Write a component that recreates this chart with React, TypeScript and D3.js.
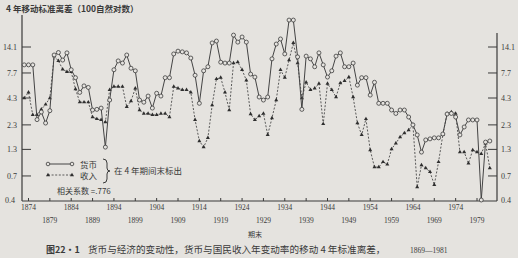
import React from 'react';
import * as d3 from 'd3';

const years = [
  1873, 1874, 1875, 1876, 1877, 1878, 1879, 1880, 1881, 1882,
  1883, 1884, 1885, 1886, 1887, 1888, 1889, 1890, 1891, 1892,
  1893, 1894, 1895, 1896, 1897, 1898, 1899, 1900, 1901, 1902,
  1903, 1904, 1905, 1906, 1907, 1908, 1909, 1910, 1911, 1912,
  1913, 1914, 1915, 1916, 1917, 1918, 1919, 1920, 1921, 1922,
  1923, 1924, 1925, 1926, 1927, 1928, 1929, 1930, 1931, 1932,
  1933, 1934, 1935, 1936, 1937, 1938, 1939, 1940, 1941, 1942,
  1943, 1944, 1945, 1946, 1947, 1948, 1949, 1950, 1951, 1952,
  1953, 1954, 1955, 1956, 1957, 1958, 1959, 1960, 1961, 1962,
  1963, 1964, 1965, 1966, 1967, 1968, 1969, 1970, 1971, 1972,
  1973, 1974, 1975, 1976, 1977, 1978, 1979, 1980, 1981, 1982,
];

// 货币 (money) – 4-year moving standard deviation
const money = [
  9.3, 9.3, 9.3, 2.6, 3.1, 2.4, 3.2, 11.7, 12.4, 10.4,
  12.3, 8.3, 6.9, 4.9, 5.7, 5.5, 3.25, 3.3, 3.4, 1.37,
  4.1, 8.3, 10.2, 9.7, 11.7, 8.6, 8.1, 4.1, 3.9, 4.5,
  3.4, 4.8, 4.5, 6.9, 6.9, 12.0, 12.8, 12.6, 12.3, 10.9,
  7.3, 3.8, 8.1, 8.9, 15.5, 16.2, 9.9, 9.7, 9.7, 18.6,
  15.8, 17.8, 15.8, 7.5, 7.0, 4.4, 4.1, 4.4, 10.7, 15.1,
  17.0, 12.0, 26.4, 26.4, 11.2, 3.3, 11.4, 10.7, 8.9, 12.3,
  9.3, 7.0, 8.1, 11.4, 12.3, 8.9, 8.9, 9.7, 5.8, 6.9,
  6.9, 4.6, 6.2, 3.8, 3.8, 3.8, 3.25, 3.0, 3.25, 3.25,
  2.76, 2.3, 1.82, 1.22, 1.62, 1.66, 1.7, 1.7, 1.86, 2.96,
  3.0, 2.76, 1.82, 2.19, 2.58, 2.58, 2.58, 0.4, 1.54, 1.58,
];

// 收入 (income)
const income = [
  4.3, 4.9, 2.9, 2.9, 3.3, 3.7, 4.3, 11.4, 10.2, 8.4,
  7.9, 7.9, 5.3, 3.9, 3.9, 3.9, 2.76, 2.64, 2.58, 2.46,
  5.2, 5.6, 5.6, 5.6, 3.5, 4.0, 5.4, 3.25, 3.0, 3.0,
  2.9, 2.9, 3.0, 3.0, 2.76, 5.6, 5.4, 5.2, 5.2, 4.9,
  2.58, 1.58, 1.37, 1.7, 3.65, 6.7, 6.9, 4.9, 3.25, 9.7,
  9.9, 8.3, 6.5, 2.96, 2.58, 2.83, 3.0, 1.82, 2.7, 4.1,
  8.3, 6.9, 10.4, 15.5, 9.7, 4.3, 6.2, 5.2, 5.4, 6.0,
  2.35, 6.0, 5.2, 4.4, 6.1, 6.4, 7.0, 4.4, 2.4, 1.82,
  2.64, 1.28, 0.86, 0.86, 0.97, 0.92, 1.31, 1.5, 1.73, 1.9,
  2.04, 2.3, 0.54, 0.9, 0.84, 0.77, 0.57, 0.97, 1.82, 3.0,
  3.1, 3.0, 1.22, 1.22, 0.94, 1.28, 1.22, 1.17, 1.5, 0.84,
];

const yTicks = [0.4, 0.7, 1.3, 2.3, 4.3, 7.7, 14.1];
const xLabelsUpper = [1874, 1884, 1894, 1904, 1914, 1924, 1934, 1944, 1954, 1964, 1974];
const xLabelsLower = [1879, 1889, 1899, 1909, 1919, 1929, 1939, 1949, 1959, 1969, 1979];

const title = '4 年移动标准离差（100自然对数）';
const xTitle = '期末';
const captionHead = '图22·1';
const captionText = '货币与经济的变动性，货币与国民收入年变动率的移动 4 年标准离差，';
const captionYears = '1869—1981';
const legendMoney = '货币';
const legendIncome = '收入';
const legendNote = '在 4 年期间末标出';
const corrText = '相关系数 =.776';

const BG = '#e5e3df';
const INK = '#3a3a3a';
const SERIF = '"Liberation Serif", "DejaVu Serif", serif';
const CJK = '"Noto Sans CJK SC", "Noto Sans", sans-serif';

export default function App() {
  const W = 518;
  const H = 258;
  const left = 22;
  const right = 497;
  const bottom = 201;

  const x = d3.scaleLinear().domain([1874, 1979]).range([28.5, 477]);
  const y = d3.scaleLog().domain([0.4, 14.1]).range([200, 47]);

  const line = d3
    .line<number>()
    .x((_, i) => x(years[i]))
    .y((v) => y(v));

  const tri = d3.symbol().type(d3.symbolTriangle).size(7)() as string;

  const tickYears = d3.range(1874, 1980, 5);

  return (
    <svg
      width={W}
      height={H}
      style={{ position: 'absolute', left: 0, top: 0, display: 'block' }}
    >
      <rect x={0} y={0} width={W} height={H} fill={BG} />

      {/* title */}
      <text x={6} y={12} fontFamily={CJK} fontSize={8.5} fontWeight={700} fill={INK}>
        {title}
      </text>

      {/* axes */}
      <line x1={left} y1={15} x2={left} y2={bottom} stroke={INK} strokeWidth={1.2} />
      <line x1={right} y1={33} x2={right} y2={bottom} stroke={INK} strokeWidth={1.2} />
      <line x1={left} y1={bottom} x2={right} y2={bottom} stroke={INK} strokeWidth={1.2} />

      {yTicks.map((t) => (
        <g key={'yt' + t}>
          {t !== 0.4 && (
            <>
              <line x1={left} x2={left + 9} y1={y(t)} y2={y(t)} stroke={INK} strokeWidth={1} />
              <line x1={right - 9} x2={right} y1={y(t)} y2={y(t)} stroke={INK} strokeWidth={1} />
            </>
          )}
          <text
            x={t === 0.4 ? 15 : 17}
            y={y(t) + 3}
            textAnchor="end"
            fontFamily={SERIF}
            fontSize={8}
            fill={INK}
          >
            {t}
          </text>
          <text x={right + 4} y={y(t) + 3} fontFamily={SERIF} fontSize={8} fill={INK}>
            {t}
          </text>
        </g>
      ))}

      {tickYears.map((yr) => (
        <line key={'xt' + yr} x1={x(yr)} x2={x(yr)} y1={bottom} y2={bottom - 3} stroke={INK} strokeWidth={1} />
      ))}
      {xLabelsUpper.map((yr) => (
        <text key={'xu' + yr} x={x(yr)} y={210} textAnchor="middle" fontFamily={SERIF} fontSize={7.5} fill={INK}>
          {yr}
        </text>
      ))}
      {xLabelsLower.map((yr) => (
        <text key={'xl' + yr} x={x(yr)} y={223} textAnchor="middle" fontFamily={SERIF} fontSize={7.5} fill={INK}>
          {yr}
        </text>
      ))}

      <text x={248} y={237} fontFamily={CJK} fontSize={7} fill={INK}>
        {xTitle}
      </text>

      {/* caption */}
      <text x={46} y={253} fontFamily={CJK} fontSize={9} fontWeight={700} fill={INK}>
        {captionHead}
      </text>
      <text x={88} y={253} fontFamily={CJK} fontSize={9.6} fill={INK}>
        {captionText}
      </text>
      <text x={410} y={253} fontFamily={SERIF} fontSize={7.5} fill={INK}>
        {captionYears}
      </text>

      {/* income series */}
      <path d={line(income) || ''} fill="none" stroke="#4a4a4a" strokeWidth={0.9} strokeDasharray="2,1.6" />
      {income.map((v, i) => (
        <path key={'ip' + i} d={tri} transform={`translate(${x(years[i])},${y(v)})`} fill="#2e2e2e" />
      ))}

      {/* money series */}
      <path d={line(money) || ''} fill="none" stroke="#444" strokeWidth={1} />
      {money.map((v, i) => (
        <circle key={'mp' + i} cx={x(years[i])} cy={y(v)} r={2} fill={BG} stroke="#3c3c3c" strokeWidth={0.8} />
      ))}

      {/* legend */}
      <line x1={48} x2={72} y1={164} y2={164} stroke="#444" strokeWidth={1} />
      <circle cx={48} cy={164} r={1.8} fill={BG} stroke="#3c3c3c" strokeWidth={0.8} />
      <circle cx={72} cy={164} r={1.8} fill={BG} stroke="#3c3c3c" strokeWidth={0.8} />
      <text x={80} y={167.5} fontFamily={CJK} fontSize={8.5} fill={INK}>{legendMoney}</text>
      <line x1={48} x2={72} y1={175} y2={175} stroke="#4a4a4a" strokeWidth={0.9} strokeDasharray="2,1.6" />
      <path d={tri} transform="translate(48,175)" fill="#2e2e2e" />
      <path d={tri} transform="translate(72,175)" fill="#2e2e2e" />
      <text x={80} y={178.5} fontFamily={CJK} fontSize={8.5} fill={INK}>{legendIncome}</text>
      <path
        d="M103,159 Q107,159 107,163 L107,168 Q107,171 110,171 Q107,171 107,174 L107,179 Q107,183 103,183"
        fill="none"
        stroke={INK}
        strokeWidth={1}
      />
      <text x={114} y={174} fontFamily={CJK} fontSize={8.5} fill={INK}>{legendNote}</text>
      <text x={57} y={194} fontFamily={CJK} fontSize={8} fill={INK}>{corrText}</text>
    </svg>
  );
}
